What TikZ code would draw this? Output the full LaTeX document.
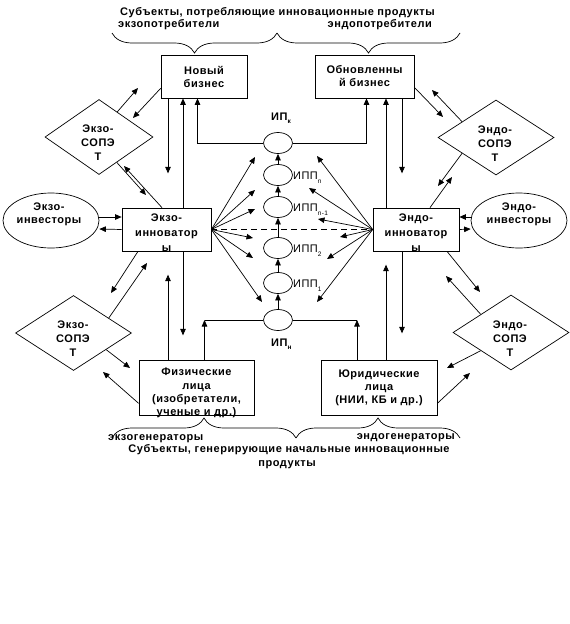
\documentclass[tikz,border=0pt]{standalone}
\usepackage{fontspec}
\setmainfont{Liberation Sans}[LetterSpace=5]
\usetikzlibrary{positioning,arrows.meta,shapes.geometric,decorations.pathreplacing}
\tikzset{
  box/.style={draw, line width=0.7pt, inner sep=0pt, align=center,
    font=\bfseries\fontsize{11}{13}\selectfont},
  boxtext/.style={inner sep=0pt, align=center,
    font=\bfseries\fontsize{11}{#1}\selectfont},
  boxtext/.default=14,
  sopet/.style={draw, diamond, line width=0.7pt, inner sep=0pt,
    minimum width=116pt, minimum height=75pt},
  investor/.style={draw, ellipse, line width=0.7pt, inner sep=0pt,
    minimum width=96pt, minimum height=55pt},
  product/.style={draw, ellipse, line width=0.7pt, inner sep=0pt,
    minimum width=29pt, minimum height=21pt},
  plabel/.style={inner sep=0pt, anchor=base west, font=\fontsize{11}{12}\selectfont},
  iplabel/.style={inner sep=0pt, anchor=base west, font=\bfseries\fontsize{11}{12}\selectfont},
  caption/.style={inner sep=0pt, font=\bfseries\fontsize{11}{13}\selectfont},
  arr/.style={line width=0.7pt, -{Triangle[length=6.5pt,width=5.5pt]}},
  link/.style={line width=0.7pt},
  dashline/.style={line width=0.7pt, dash pattern=on 6pt off 4pt},
  curly/.style={line width=0.7pt, decorate, decoration={brace, amplitude=20pt}},
}
\newcommand\prodsub[2][-4pt]{\raisebox{#1}{\fontsize{6.5}{6.5}\selectfont#2}}

\begin{document}
\begin{tikzpicture}[x=1pt, y=-1pt]
  \useasboundingbox (0,0) rectangle (570,624);

  % consumers of innovation products
  \node[box, minimum width=86pt, minimum height=43pt] (newbiz) at (204,76.5) {Новый\\бизнес};
  \node[box, minimum width=99pt, minimum height=43pt] (renbiz) at (364.5,76.5) {Обновленны\\й бизнес};

  % innovators
  \node[box, minimum width=89pt, minimum height=43pt] (exo) at (166.5,229.5) {};
  \node[boxtext=15] (exo_t) at (166.5,233) {Экзо-\\инноватор\\ы};
  \node[box, minimum width=86pt, minimum height=43pt] (endo) at (416,229.5) {};
  \node[boxtext=15] (endo_t) at (416,233) {Эндо-\\инноватор\\ы};

  % generators
  \node[box, minimum width=115pt, minimum height=55pt] (phys) at (196.5,387.5) {};
  \node[boxtext=13.3] (phys_t) at (196.5,393) {Физические\\лица\\(изобретатели,\\ученые и др.)};
  \node[box, minimum width=116pt, minimum height=55pt] (jur) at (379,387.5) {Юридические\\лица\\(НИИ, КБ и др.)};

  % SOPET diamonds
  \node[sopet, minimum width=108pt] (sopet_a) at (99,137) {};
  \node[sopet] (sopet_b) at (496,137.5) {};
  \node[sopet] (sopet_c) at (73.5,333) {};
  \node[sopet] (sopet_d) at (511,332.5) {};
  \node[boxtext] (sopet_a_t) at (98,143) {Экзо-\\СОПЭ\\Т};
  \node[boxtext] (sopet_b_t) at (495,143.5) {Эндо-\\СОПЭ\\Т};
  \node[boxtext] (sopet_c_t) at (73,338.5) {Экзо-\\СОПЭ\\Т};
  \node[boxtext] (sopet_d_t) at (510,338.5) {Эндо-\\СОПЭ\\Т};

  % investors
  \node[investor] (inv_exo) at (51,220.5) {};
  \node[investor] (inv_endo) at (519,220.5) {};
  \node[boxtext=13] (inv_exo_t) at (49,214) {Экзо-\\инвесторы};
  \node[boxtext=13] (inv_endo_t) at (519,214) {Эндо-\\инвесторы};

  % chain of products
  \foreach \n/\y in {ip_k/143, ipp_n/175, ipp_m/207, ipp_2/248, ipp_1/283, ip_h/320}
    \node[product] (\n) at (278,\y) {};
  \node[iplabel] (ip_k_l) at (271,120) {ИП\prodsub[-3pt]{к}};
  \node[iplabel] (ip_h_l) at (271,346) {ИП\prodsub[-3pt]{н}};
  \node[plabel] (ipp_n_l) at ([yshift=-4pt]ipp_n.east) {ИПП\prodsub{n}};
  \node[plabel] (ipp_m_l) at ([yshift=-4pt]ipp_m.east) {ИПП\prodsub{n-1}};
  \node[plabel] (ipp_2_l) at ([yshift=-4pt]ipp_2.east) {ИПП\prodsub{2}};
  \node[plabel] (ipp_1_l) at ([yshift=-4pt]ipp_1.east) {ИПП\prodsub{1}};
  \foreach \a/\b in {ip_h/ipp_1, ipp_1/ipp_2, ipp_2/ipp_m, ipp_m/ipp_n, ipp_n/ip_k}
    \draw[arr] (\a) -- (\b);

  % fans from innovators
  \foreach \n/\x/\y in {lf1/255/157, lf2/255/190, lf3/255/209, lf4/253/238, lf5/253/258, lf6/262/302,
                        rf1/317/156, rf2/309/188, rf3/318/219, rf4/340/237, rf5/327/259, rf6/317/302}
    \coordinate (\n) at (\x,\y);
  \foreach \i in {1,...,6} {
    \draw[arr] (exo.east) -- (lf\i);
    \draw[arr] (endo.west) -- (rf\i);
  }
  \draw[dashline] (exo.east) -- (endo.west);

  % verticals
  \draw[arr] (ip_k.west) -| ([xshift=-6.5pt]newbiz.south);
  \draw[arr] (ip_k.east) -| ([xshift=2pt]renbiz.south);
  \draw[arr] ([xshift=-36pt]newbiz.south) -- ++(0,75);
  \draw[arr] ([xshift=16.5pt]exo.north) -- ([xshift=16.5pt]exo.north |- newbiz.south);
  \draw[arr] ([xshift=-28.5pt]phys.north) -- ++(0,-85);
  \draw[arr] ([xshift=16.5pt]exo.south) -- ++(0,84);
  \draw[arr] ([xshift=8pt]phys.north) -- ([xshift=8pt]phys.north |- ip_h);
  \draw[link] (ip_h.west) -- ([xshift=8pt]phys.north |- ip_h);
  \draw[arr] ([xshift=-30pt]endo.north) -- ([xshift=-30pt]endo.north |- renbiz.south);
  \draw[arr] ([xshift=37.5pt]renbiz.south) -- ++(0,75);
  \draw[arr] ([xshift=7pt]jur.north) -- ++(0,-95);
  \draw[arr] ([xshift=-14pt]endo.south) -- ++(0,82);
  \draw[arr] ([xshift=-22pt]jur.north) -- ([xshift=-22pt]jur.north |- ip_h);
  \draw[link] (ip_h.east) -- ([xshift=-22pt]jur.north |- ip_h);

  % investors <-> innovators
  \draw[arr] ([yshift=3.5pt]inv_exo.east) -- ([yshift=12.5pt]exo.west);
  \draw[arr] (exo.west) -- ([yshift=-8.5pt]inv_exo.east);
  \draw[arr] ([yshift=3.5pt]inv_endo.west) -- ([yshift=12.5pt]endo.east);
  \draw[arr] (endo.east) -- ([yshift=-8.5pt]inv_endo.west);

  % SOPET links
  \foreach \n/\x/\y in {t1/138/88, t2/133/118, t3/146/195, t4/124/166, t5/111/293, t6/147/263,
                        t7/130/368, t8/103/372, t9/443/117, t10/432/90, t11/438/186, t12/452/177,
                        t13/480/292, t14/446/276, t15/447/368, t16/470/373}
    \coordinate (\n) at (\x,\y);
  \draw[arr] (sopet_a.54) -- (t1);
  \draw[arr] ([yshift=10pt]newbiz.south west) -- (t2);
  \draw[arr] (sopet_a.-55) -- (t3);
  \draw[arr] ([xshift=-4.5pt]exo.north) -- (t4);
  \draw[arr] ([xshift=-28.5pt]exo.south) -- (t5);
  \draw[arr] (sopet_c.23) -- (t6);
  \draw[arr] (sopet_c.-27) -- (t7);
  \draw[arr] ([yshift=12pt]phys.south west) -- (t8);
  \draw[arr] ([yshift=11pt]renbiz.south east) -- (t9);
  \draw[arr] (sopet_b.155) -- (t10);
  \draw[arr] (sopet_b.-155) -- (t11);
  \draw[arr] ([xshift=14pt]endo.north) -- (t12);
  \draw[arr] ([xshift=31pt]endo.south) -- (t13);
  \draw[arr] (sopet_d.149) -- (t14);
  \draw[arr] (sopet_d.-149) -- (t15);
  \draw[arr] ([yshift=12pt]jur.south east) -- (t16);

  % braces and captions
  \foreach \n/\x/\y in {bt1/112/33, bt2/277/33, bt3/460/33, bb1/112/438, bb2/296/438, bb3/460/438}
    \coordinate (\n) at (\x,\y);
  \draw[curly] (bt2) -- (bt1);
  \draw[curly] (bt3) -- (bt2);
  \draw[curly] (bb1) -- (bb2);
  \draw[curly] (bb2) -- (bb3);
  \node[caption] (cons_t) at (277.5,13) {Субъекты, потребляющие инновационные продукты};
  \node[caption, anchor=west] (cons_exo) at (118,25) {экзопотребители};
  \node[caption, anchor=east] (cons_endo) at (432,25) {эндопотребители};
  \node[caption, anchor=west] (gen_exo) at (108,439) {экзогенераторы};
  \node[caption, anchor=east] (gen_endo) at (455,438) {эндогенераторы};
  \node[caption] (gen_t) at (289,450) {Субъекты, генерирующие начальные инновационные};
  \node[caption] (gen_t2) at (287,465) {продукты};

\end{tikzpicture}
\end{document}
